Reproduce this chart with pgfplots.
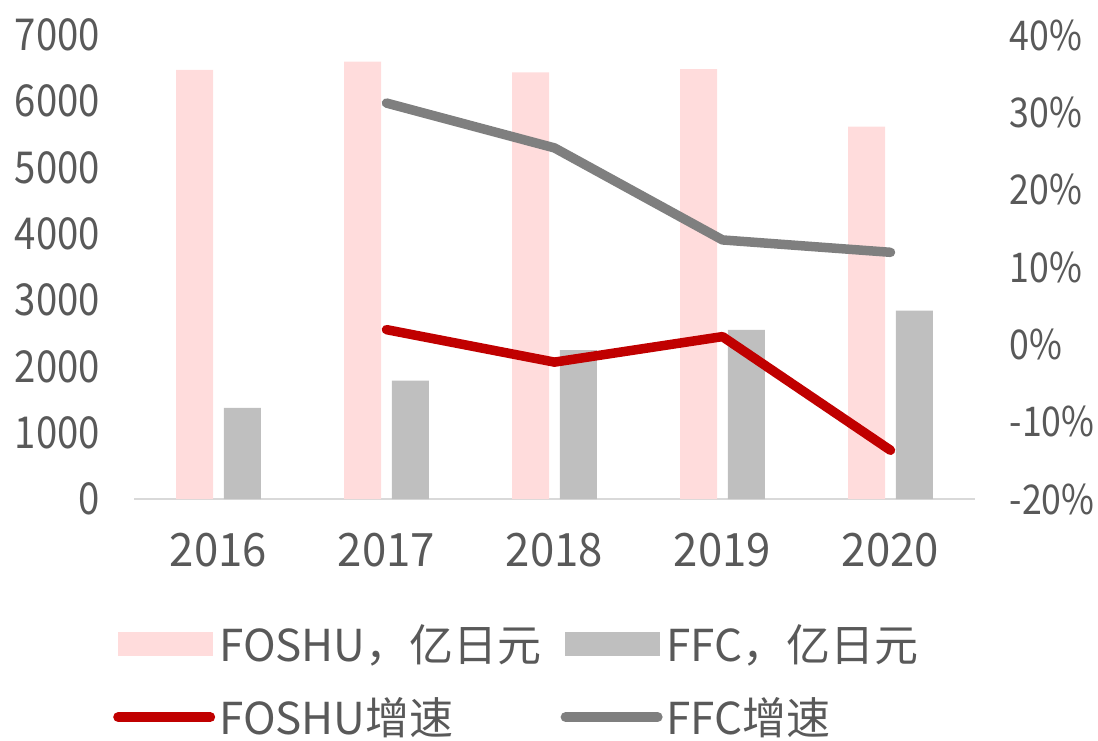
\documentclass[border=0pt]{standalone}
\usepackage{fontspec}
\setmainfont{Noto Sans CJK SC}
\newfontfamily\yfont{Noto Sans CJK SC}[FakeStretch=0.87]
\newfontfamily\xfont{Noto Sans CJK SC}[FakeStretch=0.95]
\usepackage{pgfplots}
\pgfplotsset{compat=1.18}
\definecolor{pinkbar}{HTML}{FFDCDC}
\definecolor{graybar}{HTML}{BFBFBF}
\definecolor{redline}{HTML}{C00000}
\definecolor{grayline}{HTML}{7F7F7F}
\definecolor{txt}{HTML}{595959}
\definecolor{axline}{HTML}{D9D9D9}
\pgfplotsset{
  myaxis/.style={scale only axis, width=840pt, height=464pt, xmin=-0.5, xmax=4.5,
    at={(0pt,0pt)}, anchor=south west, major tick length=0pt,
    tick label style={text=txt, inner sep=0pt}},
  barlegend/.style={legend image code/.code={\fill[#1] (5pt,-11.5pt) rectangle (99pt,11.5pt);}},
  linelegend/.style={legend image code/.code={\draw[##1, line width=10pt] (5pt,0pt) -- (97pt,0pt);}},
}
\begin{document}
\begin{tikzpicture}
\path[use as bounding box] (-134.5pt,-241pt) rectangle (963.5pt,499pt);
\begin{axis}[myaxis,
  ymin=0, ymax=7000,
  axis y line*=left, axis x line*=bottom,
  x axis line style={draw=axline, line width=2pt, -},
  y axis line style={draw=none},
  xtick={0,1,2,3,4}, xticklabels={2016,2017,2018,2019,2020},
  xticklabel style={anchor=north, yshift=-34pt, font=\xfont\fontsize{46}{52}\selectfont},
  ytick={0,1000,2000,3000,4000,5000,6000,7000},
  yticklabels={0,1000,2000,3000,4000,5000,6000,7000},
  yticklabel style={anchor=east, xshift=-34.5pt, font=\yfont\fontsize{44}{50}\selectfont},
  ybar, bar width=37pt,
]
\addplot[fill=pinkbar, draw=none, bar shift=-23.8pt] coordinates {(0,6472) (1,6597) (2,6437) (3,6487) (4,5617)};
\addplot[fill=graybar, draw=none, bar shift=23.8pt] coordinates {(0,1373) (1,1785) (2,2245) (3,2550) (4,2841)};
\end{axis}
\begin{axis}[myaxis,
  ymin=-20, ymax=40,
  axis y line*=right, axis x line=none,
  y axis line style={draw=none},
  ytick={-20,-10,0,10,20,30,40},
  yticklabels={-20\%,-10\%,0\%,10\%,20\%,30\%,40\%},
  yticklabel style={anchor=west, xshift=35pt, font=\yfont\fontsize{41}{48}\selectfont},
  legend columns=2,
  legend cell align=left,
  legend style={at={(-0.0256,-0.27)}, anchor=north west, draw=none, fill=none,
    font=\fontsize{44}{50}\selectfont, text=txt, inner sep=0pt,
    nodes={inner sep=0pt},
    row sep=35pt,
    /tikz/every odd column/.append style={column sep=4pt},
    /tikz/every even column/.append style={column sep=19pt}},
]
\addlegendimage{barlegend=pinkbar}
\addlegendentry{FOSHU，亿日元}
\addlegendimage{barlegend=graybar}
\addlegendentry{FFC，亿日元}
\addplot[redline, line width=9.5pt, line join=round, line cap=round, linelegend] coordinates {(1,1.9) (2,-2.3) (3,1.0) (4,-13.7)};
\addlegendentry{FOSHU增速}
\addplot[grayline, line width=9.5pt, line join=round, line cap=round, linelegend] coordinates {(1,31.2) (2,25.4) (3,13.5) (4,11.9)};
\addlegendentry{FFC增速}
\end{axis}
\end{tikzpicture}
\end{document}
